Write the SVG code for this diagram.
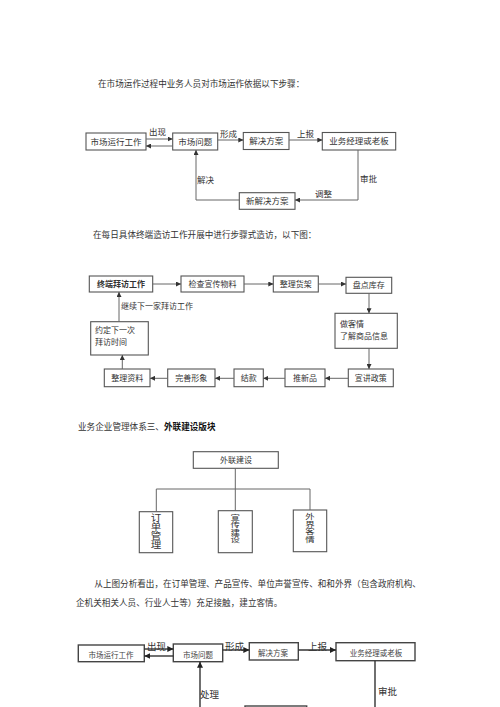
<svg xmlns="http://www.w3.org/2000/svg" width="500" height="707" viewBox="0 0 500 707">
<defs>
<marker id="ah" viewBox="0 0 6 6" refX="6" refY="3" markerWidth="5" markerHeight="5" markerUnits="userSpaceOnUse" orient="auto"><path d="M0,0 L6,3 L0,6 z" fill="#333"/></marker>
<marker id="ah2" viewBox="0 0 6 6" refX="6" refY="3" markerWidth="6" markerHeight="6" markerUnits="userSpaceOnUse" orient="auto"><path d="M0,0 L6,3 L0,6 z" fill="#222"/></marker>
</defs>
<style>
.para{font-family:"Liberation Serif","Noto Sans CJK SC",serif;font-size:8.6px;fill:#333}
.box{fill:#fff;stroke:#555;stroke-width:1.1}
.box4{fill:#fff;stroke:#444;stroke-width:1.4}
.t{font-family:"Liberation Sans","Noto Sans CJK SC",sans-serif;font-size:8.5px;fill:#333}
.t2{font-family:"Liberation Sans","Noto Sans CJK SC",sans-serif;font-size:8px;fill:#333}
.v{font-family:"Liberation Sans","Noto Sans CJK SC",sans-serif;fill:#333;text-anchor:middle}
.t4{font-family:"Liberation Serif","Noto Sans CJK SC",serif;font-size:7.5px;fill:#444}
.l4{font-family:"Liberation Serif","Noto Sans CJK SC",serif;font-size:9.5px;fill:#333}
.c{fill:none;stroke:#666;stroke-width:1}
.c4{fill:none;stroke:#333;stroke-width:1.4}
.m{text-anchor:middle}
</style>
<rect width="500" height="707" fill="#fff"/>

<!-- Section 1 -->
<text class="para" x="98" y="87">在市场运作过程中业务人员对市场运作依据以下步骤：</text>
<g id="s1-n1"><rect class="box" x="86" y="133" width="60" height="17"/><text class="t m" x="116" y="144.5">市场运行工作</text></g>
<g id="s1-n2"><rect class="box" x="172.7" y="133" width="45" height="17"/><text class="t m" x="195.2" y="144.5">市场问题</text></g>
<g id="s1-n3"><rect class="box" x="243.3" y="132.5" width="45.7" height="17"/><text class="t m" x="266.2" y="144">解决方案</text></g>
<g id="s1-n4"><rect class="box" x="322.3" y="132.5" width="73.4" height="17.5"/><text class="t m" x="359" y="144.3">业务经理或老板</text></g>
<g id="s1-n5"><rect class="box" x="239.3" y="192.7" width="55.7" height="16.6"/><text class="t m" x="267.2" y="204">新解决方案</text></g>
<g id="s1-conn">
<line class="c" x1="146" y1="139" x2="172.7" y2="139" marker-end="url(#ah)"/>
<line class="c" x1="172.7" y1="146" x2="146" y2="146" marker-end="url(#ah)"/>
<line class="c" x1="217.7" y1="140" x2="243.3" y2="140" marker-end="url(#ah)"/>
<line class="c" x1="289" y1="140" x2="322.3" y2="140" marker-end="url(#ah)"/>
<polyline class="c" points="358,150 358,200 295,200" marker-end="url(#ah)"/>
<polyline class="c" points="239.3,200 196,200 196,150" marker-end="url(#ah)"/>
<text class="t" x="149" y="135">出现</text>
<text class="t" x="220" y="136.5">形成</text>
<text class="t" x="297" y="137">上报</text>
<text class="t" x="360" y="182">审批</text>
<text class="t" x="315" y="197">调整</text>
<text class="t" x="197" y="183">解决</text>
</g>

<!-- Section 2 -->
<text class="para" x="93" y="238">在每日具体终端造访工作开展中进行步骤式造访，以下图：</text>
<g id="s2-n1"><rect class="box" x="89.3" y="276" width="63.4" height="16"/><text class="t2 m" x="121" y="287" font-weight="bold">终端拜访工作</text></g>
<g id="s2-n2"><rect class="box" x="181" y="276" width="63" height="16"/><text class="t2 m" x="212.5" y="287">检查宣传物料</text></g>
<g id="s2-n3"><rect class="box" x="273.3" y="276" width="45" height="16"/><text class="t2 m" x="295.8" y="287">整理货架</text></g>
<g id="s2-n4"><rect class="box" x="346" y="277.3" width="45.7" height="16"/><text class="t2 m" x="368.8" y="288.3">盘点库存</text></g>
<g id="s2-n5"><rect class="box" x="335" y="313.3" width="62.3" height="35"/><text class="t2" x="340" y="326.5">做客情</text><text class="t2" x="340" y="338.5">了解商品信息</text></g>
<g id="s2-n6"><rect class="box" x="348.3" y="369" width="45" height="17.7"/><text class="t2 m" x="370.8" y="380.8">宣讲政策</text></g>
<g id="s2-n7"><rect class="box" x="285" y="369" width="40" height="17.7"/><text class="t2 m" x="305" y="380.8">推新品</text></g>
<g id="s2-n8"><rect class="box" x="234" y="369" width="29.3" height="17.7"/><text class="t2 m" x="248.7" y="380.8">结款</text></g>
<g id="s2-n9"><rect class="box" x="167.7" y="369" width="47.3" height="17.7"/><text class="t2 m" x="191.3" y="380.8">完善形象</text></g>
<g id="s2-n10"><rect class="box" x="104.3" y="369" width="45.7" height="17.7"/><text class="t2 m" x="127.2" y="380.8">整理资料</text></g>
<g id="s2-n11"><rect class="box" x="90.7" y="321.7" width="57.6" height="33.3"/><text class="t2" x="95" y="332.5">约定下一次</text><text class="t2" x="95" y="344.5">拜访时间</text></g>
<g id="s2-conn">
<line class="c" x1="152.7" y1="284" x2="181" y2="284" marker-end="url(#ah)"/>
<line class="c" x1="244" y1="284" x2="273.3" y2="284" marker-end="url(#ah)"/>
<line class="c" x1="318.3" y1="284" x2="346" y2="284" marker-end="url(#ah)"/>
<line class="c" x1="369" y1="293.3" x2="369" y2="313.3" marker-end="url(#ah)"/>
<line class="c" x1="369" y1="348.3" x2="369" y2="369" marker-end="url(#ah)"/>
<line class="c" x1="348.3" y1="378.3" x2="325" y2="378.3" marker-end="url(#ah)"/>
<line class="c" x1="285" y1="378.3" x2="263.3" y2="378.3" marker-end="url(#ah)"/>
<line class="c" x1="234" y1="378.3" x2="215" y2="378.3" marker-end="url(#ah)"/>
<line class="c" x1="167.7" y1="378.3" x2="150" y2="378.3" marker-end="url(#ah)"/>
<line class="c" x1="122.3" y1="369" x2="122.3" y2="355" marker-end="url(#ah)"/>
<line class="c" x1="119" y1="321.7" x2="119" y2="292" marker-end="url(#ah)"/>
<text class="t2" x="121" y="308.5">继续下一家拜访工作</text>
</g>

<!-- Section 3 -->
<text class="para" x="78" y="430">业务企业管理体系三、<tspan font-weight="bold" fill="#111">外联建设版块</tspan></text>
<g id="s3-n1"><rect class="box" x="193.3" y="451.7" width="85" height="16.6" stroke="#444"/><text class="t2 m" x="236" y="463.3" font-size="9">外联建设</text></g>
<g id="s3-n2"><rect class="box" x="139.3" y="511.7" width="33.4" height="41" stroke="#444"/>
<g transform="translate(156,512) scale(1,0.86)" font-size="10.5"><text class="v" x="0" y="10.5">订</text><text class="v" x="0" y="21">单</text><text class="v" x="0" y="31.5">管</text><text class="v" x="0" y="42">理</text></g></g>
<g id="s3-n3"><rect class="box" x="218.3" y="510.7" width="34" height="42" stroke="#444"/>
<g transform="translate(235.3,512.5) scale(1,0.78)" font-size="9.5"><text class="v" x="0" y="9.5">宣</text><text class="v" x="0" y="19">传</text><text class="v" x="0" y="28.5">建</text><text class="v" x="0" y="38">设</text></g></g>
<g id="s3-n4"><rect class="box" x="293.3" y="510" width="33.4" height="41.7" stroke="#444"/>
<g transform="translate(310,512) scale(1,0.78)" font-size="9.5"><text class="v" x="0" y="9.5">外</text><text class="v" x="0" y="19">界</text><text class="v" x="0" y="28.5">客</text><text class="v" x="0" y="38">情</text></g></g>
<g id="s3-conn">
<polyline class="c" stroke="#555" points="235.3,468.3 235.3,489"/>
<polyline class="c" stroke="#555" points="156.3,511.7 156.3,489 310,489 310,510"/>
<line class="c" stroke="#555" x1="235.3" y1="489" x2="235.3" y2="510.7"/>
</g>

<!-- Section 4 -->
<text class="para" x="94.3" y="587">从上图分析看出，在订单管理、产品宣传、单位声誉宣传、和和外界（包含政府机构、</text>
<text class="para" x="76" y="606">企机关相关人员、行业人士等）充足接触，建立客情。</text>
<g id="s4-n1"><rect class="box4" x="78.3" y="645" width="66" height="16.7"/><text class="t4 m" x="111" y="658">市场运行工作</text></g>
<g id="s4-n2"><rect class="box4" x="173.3" y="644" width="49.4" height="17.7"/><text class="t4 m" x="198" y="657.5">市场问题</text></g>
<g id="s4-n3"><rect class="box4" x="249.3" y="642.7" width="49" height="17.3"/><text class="t4 m" x="273" y="655.5">解决方案</text></g>
<g id="s4-n4"><rect class="box4" x="336" y="642.7" width="79" height="18"/><text class="t4 m" x="376" y="656">业务经理或老板</text></g>
<g id="s4-n5"><rect class="box4" x="245" y="706" width="61.7" height="20"/></g>
<g id="s4-conn">
<line class="c4" x1="144.3" y1="649" x2="173.3" y2="649" marker-end="url(#ah2)"/>
<line class="c4" x1="173.3" y1="656" x2="144.3" y2="656" marker-end="url(#ah2)"/>
<line class="c4" x1="222.7" y1="650" x2="249.3" y2="650" marker-end="url(#ah2)"/>
<line class="c4" x1="298.3" y1="650" x2="336" y2="650" marker-end="url(#ah2)"/>
<line class="c4" x1="375" y1="660.7" x2="375" y2="707"/>
<line class="c4" x1="200" y1="707" x2="200" y2="661.7" marker-end="url(#ah2)"/>
<text class="l4" x="147" y="650">出现</text>
<text class="l4" x="225" y="650">形成</text>
<text class="l4" x="308" y="650">上报</text>
<text class="l4" x="378" y="695">审批</text>
<text class="l4" x="200" y="698">处理</text>
</g>
</svg>
